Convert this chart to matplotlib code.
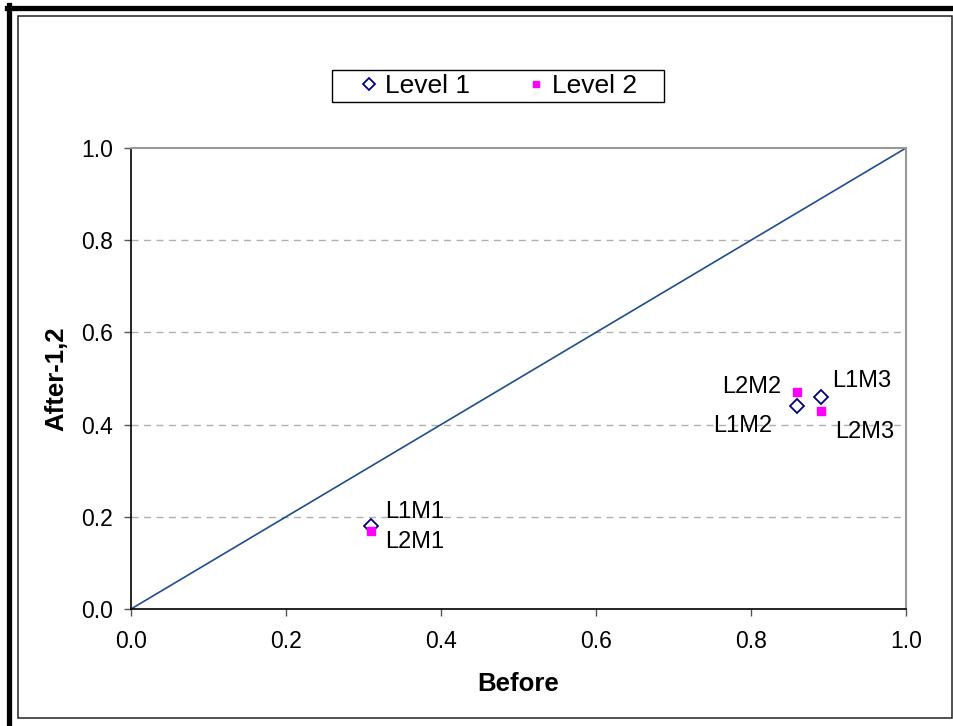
import matplotlib.pyplot as plt
from matplotlib.lines import Line2D
from matplotlib.patches import Rectangle

plt.rcParams['font.family'] = ['Liberation Sans', 'DejaVu Sans']

# data
level1_names = ["L1M1", "L1M2", "L1M3"]
level1_x = [0.31, 0.86, 0.89]
level1_y = [0.18, 0.44, 0.46]
level2_names = ["L2M1", "L2M2", "L2M3"]
level2_x = [0.31, 0.86, 0.89]
level2_y = [0.17, 0.47, 0.43]
ticks = [0.0, 0.2, 0.4, 0.6, 0.8, 1.0]
tick_labels = ["0.0", "0.2", "0.4", "0.6", "0.8", "1.0"]

fig = plt.figure(figsize=(9.54, 7.26), dpi=100)
W, H = 954, 726

# outer frames
fig.add_artist(Line2D([7 / W, 1], [1 - 7.5 / H] * 2, color="black", lw=3.8, transform=fig.transFigure))
fig.add_artist(Line2D([9.5 / W] * 2, [0, 1 - 5 / H], color="black", lw=3.8, transform=fig.transFigure))
fig.add_artist(Rectangle((18 / W, 8 / H), 934.5 / W, 702 / H, fill=False, ec="#222222", lw=1.1,
                         transform=fig.transFigure))

ax = fig.add_axes([131 / W, 117 / H, 775 / W, 461 / H])
ax.set_xlim(0, 1)
ax.set_ylim(0, 1)

ax.plot([0, 1], [0, 1], color="#1f4e8c", lw=1.2, zorder=2)
ax.plot(level1_x, level1_y, ls="none", marker="D", ms=7.0, mfc="white", mec="#000080", mew=1.3,
        label="Level 1", zorder=3)
ax.plot(level2_x, level2_y, ls="none", marker="s", ms=5.8, mfc="#ff00ff", mec="#ff00ff",
        label="Level 2", zorder=4)

# point labels (offsets in points from each marker)
lab_kw = dict(fontsize=17, color="black", textcoords="offset points", va="center")
ax.annotate(level1_names[0], (level1_x[0], level1_y[0]), xytext=(10, 10), ha="left", **lab_kw)
ax.annotate(level2_names[0], (level2_x[0], level2_y[0]), xytext=(10, -8), ha="left", **lab_kw)
ax.annotate(level1_names[1], (level1_x[1], level1_y[1]), xytext=(-18, -14), ha="right", **lab_kw)
ax.annotate(level2_names[1], (level2_x[1], level2_y[1]), xytext=(-12, 3.5), ha="right", **lab_kw)
ax.annotate(level1_names[2], (level1_x[2], level1_y[2]), xytext=(8, 11.5), ha="left", **lab_kw)
ax.annotate(level2_names[2], (level2_x[2], level2_y[2]), xytext=(10, -15), ha="left", **lab_kw)

ax.set_xticks(ticks)
ax.set_xticklabels(tick_labels)
ax.set_yticks(ticks)
ax.set_yticklabels(tick_labels)
ax.tick_params(axis="both", labelsize=16.5, direction="out", length=5, width=1, color="#555555", pad=8)
ax.tick_params(axis="x", pad=10)

for y in ticks[1:-1]:
    ax.axhline(y, color="#b0b0b0", lw=1, ls=(0, (5, 4)), zorder=1)

for s in ["top", "right"]:
    ax.spines[s].set_color("#999999")
    ax.spines[s].set_linewidth(1.5)
for s in ["left", "bottom"]:
    ax.spines[s].set_color("black")
    ax.spines[s].set_linewidth(1.2)

ax.set_xlabel("Before", fontsize=18.5, fontweight="bold", labelpad=14)
ax.set_ylabel("After-1,2", fontsize=18.5, fontweight="bold", labelpad=9)

# legend box drawn separately (Excel style, wider than its entries)
fig.add_artist(Rectangle((332 / W, 1 - 102 / H), 332 / W, 32 / H, fill=True, fc="white", ec="black",
                         lw=1.0, transform=fig.transFigure, zorder=5))
leg = fig.legend(loc="center left", bbox_to_anchor=(356 / W, 1 - 86 / H), ncol=2, fontsize=19,
                 frameon=False, handletextpad=0.1, columnspacing=2.0, borderpad=0.0,
                 borderaxespad=0.0, handlelength=1.0, markerscale=0.85)
leg.set_zorder(6)

fig.savefig("out.png", dpi=100)
